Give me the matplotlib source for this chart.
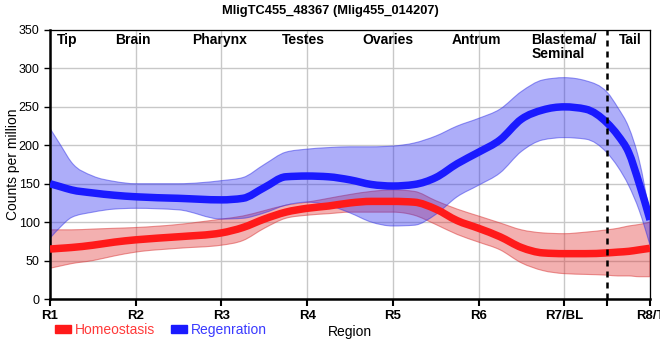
import matplotlib
matplotlib.use("Agg")
import matplotlib.pyplot as plt
from matplotlib.patches import Patch, PathPatch
from matplotlib.path import Path
import numpy as np

plt.rcParams['font.family'] = ['Liberation Sans', 'DejaVu Sans']

title = "MligTC455_48367 (Mlig455_014207)"
tick_labels = ["R1", "R2", "R3", "R4", "R5", "R6", "R7/BL", "R8/T"]
region_names = ["Tip", "Brain", "Pharynx", "Testes", "Ovaries", "Antrum", "Blastema/\nSeminal", "Tail"]
region_pos = [0.2, 0.97, 1.98, 2.96, 3.94, 4.98, 6.0, 6.77]

x = [0, 0.125, 0.25, 0.5, 0.75, 1, 1.5, 2, 2.25, 2.5, 2.75, 3, 3.25, 3.5, 3.75,
     4, 4.25, 4.5, 4.75, 5, 5.25, 5.5, 5.75, 6, 6.25, 6.5, 6.625, 6.75, 6.875, 7]

regen_mean = [150, 146, 142, 138, 135, 133, 131, 129, 131, 145, 159, 160, 159, 155, 149,
              147, 149, 158, 176, 191, 207, 234, 246, 250, 247, 229, 213, 191, 150, 103]
regen_upper = [222, 200, 178, 160, 153, 150, 150, 154, 158, 175, 191, 195, 197, 198, 198,
               199, 203, 212, 225, 235, 247, 270, 285, 288, 284, 269, 249, 224, 180, 108]
regen_lower = [79, 94, 106, 113, 117, 118, 116, 104, 105, 112, 122, 126, 122, 112, 100,
               95, 96, 110, 133, 148, 164, 192, 207, 210, 208, 190, 172, 148, 115, 70]

homeo_mean = [65, 66, 67, 70, 74, 77, 81, 86, 93, 104, 113, 118, 121, 125, 127,
              127, 126, 117, 102, 92, 81, 67, 60, 59, 59, 60, 61, 62, 64, 66]
homeo_upper = [90, 90, 90, 91, 92, 93, 97, 104, 108, 115, 122, 126, 131, 136, 140,
               142, 140, 128, 117, 108, 99, 90, 86, 85, 87, 90, 92, 95, 97, 100]
homeo_lower = [40, 43, 46, 50, 56, 61, 66, 70, 76, 92, 105, 109, 111, 113, 113,
               113, 109, 97, 84, 74, 64, 47, 37, 33, 32, 31, 30, 30, 29, 29]

boundary_x = 6.5


def _tangents(xs, ys):
    xs = np.asarray(xs, float); ys = np.asarray(ys, float)
    h = np.diff(xs); s = np.diff(ys) / h
    m = np.zeros_like(ys)
    for i in range(1, len(xs) - 1):
        s0, s1 = s[i - 1], s[i]
        p = (s0 * h[i] + s1 * h[i - 1]) / (h[i - 1] + h[i])
        m[i] = (np.sign(s0) + np.sign(s1)) * min(abs(s0), abs(s1), 0.5 * abs(p))
    m[0] = (3 * s[0] - m[1]) / 2
    m[-1] = (3 * s[-1] - m[-2]) / 2
    return xs, ys, h, m


def curve_segments(xs, ys):
    """Bezier path (monotone-X style curve) through the given points."""
    xs, ys, h, m = _tangents(xs, ys)
    verts = [(xs[0], ys[0])]
    codes = [Path.MOVETO]
    for i in range(len(xs) - 1):
        d = h[i] / 3
        verts += [(xs[i] + d, ys[i] + m[i] * d), (xs[i + 1] - d, ys[i + 1] - m[i + 1] * d),
                  (xs[i + 1], ys[i + 1])]
        codes += [Path.CURVE4] * 3
    return verts, codes


def curve_path(xs, ys):
    v, c = curve_segments(xs, ys)
    return Path(v, c)


def band_path(xs, lo, hi):
    v1, c1 = curve_segments(xs, hi)
    v2, c2 = curve_segments(xs[::-1], lo[::-1])
    c2 = [Path.LINETO] + c2[1:]
    verts = v1 + v2 + [v1[0]]
    codes = c1 + c2 + [Path.CLOSEPOLY]
    return Path(verts, codes)


fig = plt.figure(figsize=(6.6, 3.6), dpi=100)
ax = fig.add_axes([50/660, 1-299/360, 600/660, 269/360])

red = "#ff1a1a"
blue = "#1a1aff"

ax.add_patch(PathPatch(band_path(x, homeo_lower, homeo_upper), facecolor=(0.88, 0.19, 0.19, 0.38),
                       edgecolor=(0.85, 0.2, 0.2, 0.5), lw=0.8, zorder=2))
ax.add_patch(PathPatch(band_path(x, regen_lower, regen_upper), facecolor=(0.16, 0.16, 0.94, 0.38),
                       edgecolor=(0.2, 0.2, 0.9, 0.5), lw=0.8, zorder=2))
ax.add_patch(PathPatch(curve_path(x, homeo_mean), facecolor='none', edgecolor=red, lw=5.4,
                       capstyle='butt', joinstyle='round', zorder=3))
ax.add_patch(PathPatch(curve_path(x, regen_mean), facecolor='none', edgecolor=blue, lw=5.4,
                       capstyle='butt', joinstyle='round', zorder=3))

ax.axvline(boundary_x, color='black', lw=1.8, ls=(0, (2.4, 2.0)), zorder=4)

ax.set_xlim(0, 7)
ax.set_ylim(0, 350)
ax.set_xticks(range(8))
ax.set_xticklabels(tick_labels, fontsize=9.5, fontweight='bold')
ax.set_xticks([boundary_x], minor=True)
ax.set_yticks(range(0, 351, 50))
ax.tick_params(axis='y', labelsize=9, length=4, width=1)
ax.tick_params(axis='x', which='both', length=5, width=1.5, pad=3)
ax.grid(True, color='#c8c8c8', lw=1, zorder=0)
ax.set_axisbelow(True)

for side in ['left', 'bottom']:
    ax.spines[side].set_linewidth(1.8)
for side in ['top', 'right']:
    ax.spines[side].set_linewidth(0.9)

for name, px in zip(region_names, region_pos):
    ax.text(px, 346, name, ha='center', va='top', fontsize=10, fontweight='bold',
            multialignment='left', linespacing=1.0, zorder=5)

ax.set_ylabel("Counts per million", fontsize=10)
ax.yaxis.set_label_coords(-30/600, 0.5)
ax.set_xlabel("Region", fontsize=10, labelpad=2)
fig.text(0.5, 0.985, title, ha='center', va='top', fontsize=9.3, fontweight='bold')

handles = [Patch(color=red), Patch(color=blue)]
fig.legend(handles, ["Homeostasis", "Regenration"], loc='center left',
           bbox_to_anchor=(55/660, 1-330/360), ncol=2, frameon=False, fontsize=10,
           labelcolor=["#ff3a3a", "#3a3aff"], handlelength=1.15, handleheight=0.45,
           handletextpad=0.3, columnspacing=1.1, borderaxespad=0, borderpad=0)

fig.savefig("out.png", dpi=100)
